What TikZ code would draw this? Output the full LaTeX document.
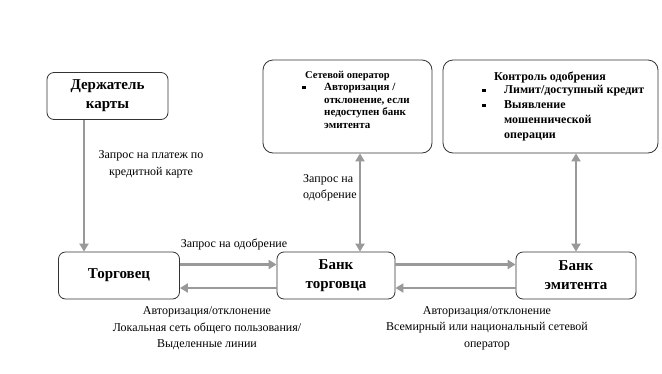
\documentclass[tikz,border=0pt]{standalone}
\usepackage{fontspec}
\setmainfont{Liberation Serif}
\usetikzlibrary{positioning,arrows.meta}

\newcommand{\sqbullet}{\rule[0.3ex]{3.5pt}{3.5pt}}

\begin{document}
\begin{tikzpicture}[
  x=1pt, y=-1pt,
  box/.style={
    draw=black!80,
    line width=0.8pt,
    rounded corners=7pt,
    align=center,
    minimum width=121pt,
    minimum height=47pt,
    font=\fontsize{15}{19}\selectfont\bfseries
  },
  panel/.style={draw=black!80, line width=0.8pt, rounded corners=10pt},
  note/.style={align=left, anchor=north west, inner sep=0pt, font=\bfseries},
  arrow/.style={-{Triangle[length=8pt,width=9pt]}, line width=2.6pt, draw=black!40},
  twoway/.style={arrow, {Triangle[length=8pt,width=9pt]}-{Triangle[length=8pt,width=9pt]}},
  lab/.style={font=\fontsize{12}{16.5}\selectfont, align=center, inner sep=1pt}
]
  \useasboundingbox (0,0) rectangle (662,373);

  \node[box] (holder) at (107.5,96) {Держатель\\карты};
  \node[box] (merchant) at (119,275.5) {Торговец};
  \node[box, minimum width=118pt] (acquirer) at (336,275.5) {Банк\\торговца};
  \node[box, minimum width=120pt] (issuer) at (576,275.5) {Банк\\эмитента};

  \node[panel, minimum width=169pt, minimum height=93pt] (operator) at (347.5,106.5) {};
  \node[note, font=\fontsize{11}{12.4}\selectfont\bfseries] (optext) at (302,71.5) {%
    \hspace*{3pt}{\fontsize{10.5}{12.4}\selectfont Сетевой оператор}\\[0pt]
    \begin{tabular}{@{}p{22pt}@{}p{100pt}@{}}
      \sqbullet & Авторизация /\newline отклонение, если\newline недоступен банк\newline эмитента
    \end{tabular}};

  \node[panel, minimum width=215pt, minimum height=93pt] (control) at (550.5,106.5) {};
  \node[note, font=\fontsize{12}{15}\selectfont\bfseries] (ctltext) at (482,72) {%
    \hspace*{12pt}Контроль одобрения\\[-1pt]
    \begin{tabular}{@{}p{22pt}@{}p{155pt}@{}}
      \sqbullet & Лимит/доступный кредит\\
      \sqbullet & Выявление\newline мошеннической\newline операции
    \end{tabular}};

  \draw[arrow] ([xshift=-23.5pt]holder.south) -- ([xshift=-23.5pt]holder.south |- merchant.north);
  \draw[arrow] ([yshift=11pt]merchant.east) -- ([yshift=11pt]merchant.east -| acquirer.west);
  \draw[arrow] ([yshift=-12.5pt]acquirer.west) -- ([yshift=-12.5pt]acquirer.west -| merchant.east);
  \draw[arrow] ([yshift=11pt]acquirer.east) -- ([yshift=11pt]acquirer.east -| issuer.west);
  \draw[arrow] ([yshift=-12.5pt]issuer.west) -- ([yshift=-12.5pt]issuer.west -| acquirer.east);
  \draw[twoway] ([xshift=24pt]acquirer.north) -- ([xshift=24pt]acquirer.north |- operator.south);
  \draw[twoway] (issuer.north) -- (issuer.north |- control.south);

  \node[lab] (payreq) at (151,164.5) {Запрос на платеж по\\кредитной карте};
  \node[lab] (authreq) at (234,244) {Запрос на одобрение};
  \node[lab, align=left, anchor=west] (netreq) at (302,188) {Запрос на\\одобрение};
  \node[lab] (localnet) at (207,328.5) {Авторизация/отклонение\\Локальная сеть общего пользования/\\Выделенные линии};
  \node[lab] (worldnet) at (487,328) {Авторизация/отклонение\\Всемирный или национальный сетевой\\оператор};
\end{tikzpicture}
\end{document}
